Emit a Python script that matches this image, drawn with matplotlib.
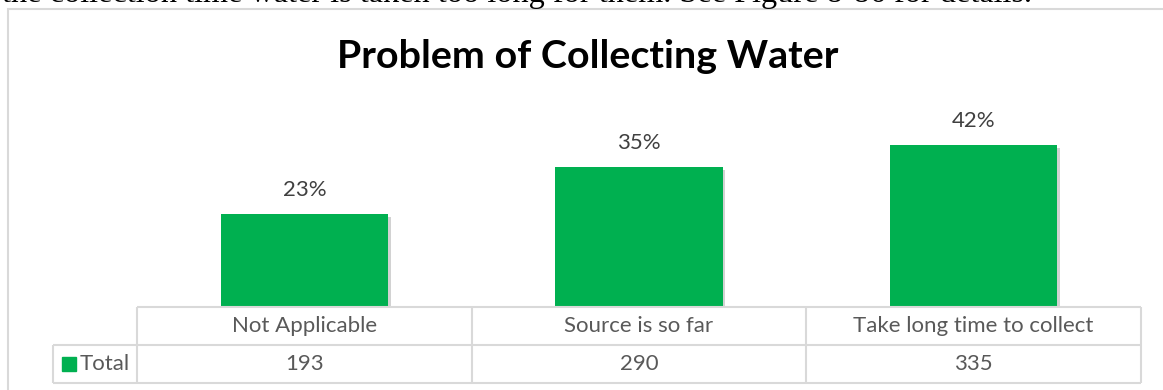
import numpy as np
import matplotlib.pyplot as plt
import matplotlib.patheffects as pe
from matplotlib.patches import Rectangle

# data
categories = ['Not Applicable', 'Source is so far', 'Take long time to collect']
counts = [193, 290, 335]
pct_labels = ['23%', '35%', '42%']
series_name = 'Total'
title = 'Problem of Collecting Water'
para_text = 'the collection time water is taken too long for them. See Figure 8-86 for details.'

green = '#00b050'
line_c = '#d9d9d9'
txt_c = '#595959'
font = 'Lato'

W, H = 1163, 390
fig = plt.figure(figsize=(W / 100, H / 100), dpi=100)


def box(l, t, r, b):
    # pixel box (from top-left) -> figure rect
    return [l / W, 1 - b / H, (r - l) / W, (b - t) / H]


# chart frame (runs off the right and bottom edge)
fig.patches.append(Rectangle((8 / W, -0.2), 1.2, 1.2 - 9 / H, transform=fig.transFigure,
                             fill=False, ec=line_c, lw=1.5))

# cut-off paragraph line above the chart
fig.text(2 / W, 1 - 2 / H, para_text, va='baseline', ha='left',
         family='Liberation Serif', fontsize=23.2, color='black')

fig.text(588 / W, 1 - 56 / H, title, ha='center', va='center',
         family=font, fontweight='bold', fontsize=28.4, color='black')

# bars
ax = fig.add_axes(box(137, 114, 1141, 307))
x = np.arange(len(categories)) + 0.5
bars = ax.bar(x, counts, width=0.5, color=green)
for b in bars:
    b.set_path_effects([pe.SimplePatchShadow(offset=(2, -2), shadow_rgbFace='#808080', alpha=0.35),
                        pe.Normal()])
for xi, c, lab in zip(x, counts, pct_labels):
    ax.annotate(lab, (xi, c), xytext=(0, 24), textcoords='offset pixels',
                ha='center', va='center', family=font, fontsize=16, color='#404040')
ax.set_xlim(0, 3)
ax.set_ylim(0, 400)
ax.axis('off')

# data table under the bars
tab = fig.add_axes(box(137, 307, 1141, 383))
tab.set_xlim(0, 3)
tab.set_ylim(0, 2)
tab.axis('off')
px = 1004 / 3  # pixels per column
left = -84 / px
kw = dict(color=line_c, lw=1.5, clip_on=False, solid_capstyle='butt')
tab.plot([0, 3], [2, 2], **kw)
tab.plot([left, 3], [1, 1], **kw)
tab.plot([left, 3], [0, 0], **kw)
tab.plot([left, left], [0, 1], **kw)
for i in range(len(categories) + 1):
    tab.plot([i, i], [0, 2], **kw)
for xi, cat, c in zip(x, categories, counts):
    tab.text(xi, 1.5, cat, ha='center', va='center', family=font, fontsize=16, color=txt_c)
    tab.text(xi, 0.5, str(c), ha='center', va='center', family=font, fontsize=16, color=txt_c)
tab.add_patch(Rectangle((-75 / px, 0.32), 14 / px, 0.37, color=green, clip_on=False))
tab.text(-57 / px, 0.5, series_name, ha='left', va='center', family=font, fontsize=16, color=txt_c)

fig.savefig('out.png', dpi=100)
